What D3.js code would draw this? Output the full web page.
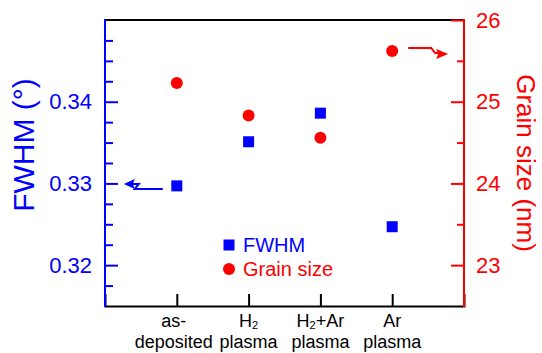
<!DOCTYPE html>
<html>
<head>
<meta charset="utf-8">
<script src="https://cdn.jsdelivr.net/npm/d3@7"></script>
<style>
  body { margin: 0; background: #fff; }
  text { font-family: "Liberation Sans", Arial, sans-serif; }
</style>
</head>
<body>
<div id="chart"></div>
<script>
const categories = [["as-", "deposited"], ["H|2", "plasma"], ["H|2|+Ar", "plasma"], ["Ar", "plasma"]];
const fwhm = [0.3297, 0.3351, 0.3386, 0.3247];
const grainSize = [25.23, 24.83, 24.56, 25.62];
const leftTicks = [0.32, 0.33, 0.34];
const rightTicks = [23, 24, 25, 26];

const blue = "#0000ff", red = "#ff0000";
const W = 542, H = 353;
const svg = d3.select("#chart").append("svg").attr("width", W).attr("height", H);

const x = d3.scaleLinear().domain([0, 5]).range([105, 464]);
const yL = d3.scaleLinear().domain([0.315, 0.35]).range([306, 20]);
const yR = d3.scaleLinear().domain([22.5, 26]).range([306, 20]);

// frame top / bottom
svg.append("line").attr("x1", 105).attr("x2", 464).attr("y1", 20).attr("y2", 20)
  .attr("stroke", "#000").attr("stroke-width", 2);

// bottom axis
const gx = svg.append("g").attr("transform", "translate(0,306)")
  .call(d3.axisBottom(x).tickValues([1, 2, 3, 4]).tickSize(-12).tickFormat(""));
gx.select(".domain").attr("stroke", "#000").attr("stroke-width", 2);
gx.selectAll(".tick line").attr("stroke", "#000").attr("stroke-width", 2);

categories.forEach((lines, i) => {
  const cx = x(i + 1) - (i === 0 ? 3 : 0);
  const t1 = svg.append("text").attr("x", cx).attr("y", 327).attr("text-anchor", "middle")
    .attr("font-size", 18).attr("fill", "#000");
  lines[0].split("|").forEach((part, k) => {
    if (k % 2 === 1) t1.append("tspan").attr("font-size", 11).attr("dy", 2).text(part);
    else t1.append("tspan").attr("dy", k ? -2 : 0).text(part);
  });
  svg.append("text").attr("x", cx).attr("y", 348).attr("text-anchor", "middle")
    .attr("font-size", 18).attr("fill", "#000").text(lines[1]);
});

// left axis
const gl = svg.append("g").attr("transform", "translate(105,0)")
  .call(d3.axisLeft(yL).tickValues(leftTicks).tickSize(-13).tickPadding(13).tickFormat(d3.format(".2f")));
gl.select(".domain").remove();
gl.selectAll(".tick line").attr("stroke", blue).attr("stroke-width", 2);
gl.selectAll(".tick text").attr("fill", blue).attr("font-size", 22);
const leftMinor = d3.range(0.3175, 0.35, 0.0025).filter(v => !leftTicks.some(t => Math.abs(t - v) < 1e-6));
const glm = svg.append("g").attr("transform", "translate(105,0)")
  .call(d3.axisLeft(yL).tickValues(leftMinor).tickSize(-8).tickFormat(""));
glm.select(".domain").remove();
glm.selectAll(".tick line").attr("stroke", blue).attr("stroke-width", 2);
svg.append("line").attr("x1", 105).attr("x2", 105).attr("y1", 19).attr("y2", 307)
  .attr("stroke", blue).attr("stroke-width", 2);

// right axis
const gr = svg.append("g").attr("transform", "translate(464,0)")
  .call(d3.axisRight(yR).tickValues(rightTicks).tickSize(-13).tickPadding(12).tickFormat(d3.format("d")));
gr.select(".domain").remove();
gr.selectAll(".tick line").attr("stroke", red).attr("stroke-width", 2);
gr.selectAll(".tick text").attr("fill", red).attr("font-size", 22);
const grm = svg.append("g").attr("transform", "translate(464,0)")
  .call(d3.axisRight(yR).tickValues([23.5, 24.5, 25.5]).tickSize(-7).tickFormat(""));
grm.select(".domain").remove();
grm.selectAll(".tick line").attr("stroke", red).attr("stroke-width", 2);
svg.append("line").attr("x1", 464).attr("x2", 464).attr("y1", 19).attr("y2", 307)
  .attr("stroke", red).attr("stroke-width", 2);

// axis titles
svg.append("text").attr("transform", "translate(34,145) rotate(-90)")
  .attr("text-anchor", "middle").attr("font-size", 30).attr("fill", blue).text("FWHM (°)");
svg.append("text").attr("transform", "translate(517,163) rotate(90)")
  .attr("text-anchor", "middle").attr("font-size", 26).attr("fill", red).text("Grain size (nm)");

// data
const s = 11;
svg.selectAll("rect.fwhm").data(fwhm).join("rect").attr("class", "fwhm")
  .attr("x", (d, i) => x(i + 1) - s / 2).attr("y", d => yL(d) - s / 2)
  .attr("width", s).attr("height", s).attr("fill", blue);
svg.selectAll("circle.gs").data(grainSize).join("circle").attr("class", "gs")
  .attr("cx", (d, i) => x(i + 1)).attr("cy", d => yR(d)).attr("r", 6).attr("fill", red);

// arrows pointing to the axes
const ax = x(1), ay = yL(fwhm[0]);
svg.append("path")
  .attr("d", `M${ax - 14},${ay + 3}H${ax - 42}L${ax - 38},${ay - 2}H${ax - 46}`)
  .attr("fill", "none").attr("stroke", blue).attr("stroke-width", 2);
svg.append("path")
  .attr("d", `M${ax - 53},${ay - 2}L${ax - 42},${ay - 7}L${ax - 44},${ay - 2}L${ax - 42},${ay + 3}Z`)
  .attr("fill", blue);
const bx = x(4), by = yR(grainSize[3]);
svg.append("path")
  .attr("d", `M${bx + 16},${by - 3}H${bx + 39}L${bx + 43},${by + 2}H${bx + 46}`)
  .attr("fill", "none").attr("stroke", red).attr("stroke-width", 2);
svg.append("path")
  .attr("d", `M${bx + 56},${by + 3}L${bx + 44},${by - 2}L${bx + 46},${by + 3}L${bx + 44},${by + 8}Z`)
  .attr("fill", red);

// legend
svg.append("rect").attr("x", 229 - s / 2).attr("y", 245 - s / 2).attr("width", s).attr("height", s).attr("fill", blue);
svg.append("text").attr("x", 243).attr("y", 252).attr("font-size", 20).attr("fill", blue).text("FWHM");
svg.append("circle").attr("cx", 229).attr("cy", 269).attr("r", 6).attr("fill", red);
svg.append("text").attr("x", 243).attr("y", 276).attr("font-size", 20).attr("fill", red).text("Grain size");
</script>
</body>
</html>
